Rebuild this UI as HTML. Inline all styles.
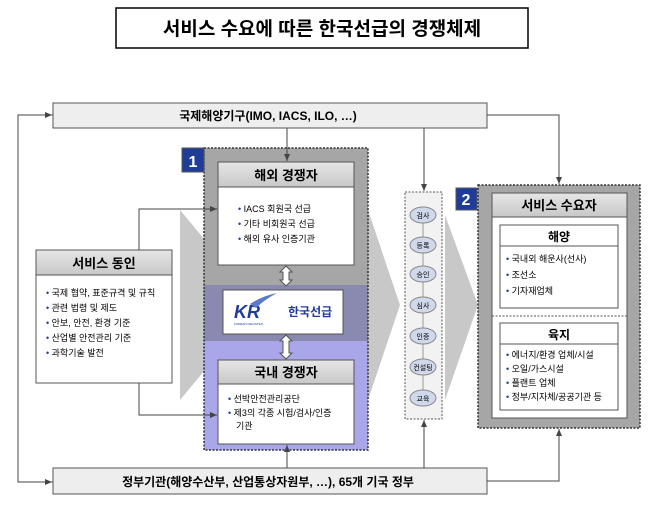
<!DOCTYPE html>
<html><head><meta charset="utf-8"><style>
body{margin:0;background:#fff;}
svg text{font-family:"Liberation Sans","Noto Sans CJK KR",sans-serif;}
</style></head><body>
<svg width="650" height="511" viewBox="0 0 650 511" xmlns="http://www.w3.org/2000/svg">
<defs>
<marker id="a" markerWidth="8" markerHeight="8" refX="7" refY="4" orient="auto"><path d="M0,1 L7,4 L0,7z" fill="#444"/></marker>
<linearGradient id="hg" x1="0" y1="0" x2="0" y2="1"><stop offset="0" stop-color="#e6e6e6"/><stop offset="1" stop-color="#c8c8c8"/></linearGradient>
</defs>
<rect x="116" y="8" width="412" height="40" fill="#fff" stroke="#000" stroke-width="1.5"/>
<text x="322" y="35" font-size="19" font-weight="bold" text-anchor="middle">서비스 수요에 따른 한국선급의 경쟁체제</text>

<path d="M180,210 L205,240 L205,370 L180,400 Z" fill="#c8c8c8"/>
<path d="M368,210 L400,305 L368,400 Z" fill="#c8c8c8"/>
<path d="M445,215 L478,305 L445,400 Z" fill="#c8c8c8"/>

<polyline points="53,115 18,115 18,482 53,482" fill="none" stroke="#444"/>
<line x1="18" y1="115" x2="52" y2="115" stroke="#444" marker-end="url(#a)"/>
<line x1="18" y1="482" x2="52" y2="482" stroke="#444" marker-end="url(#a)"/>

<rect x="53" y="103" width="434" height="25" fill="#eeeeee" stroke="#555"/>
<text x="268" y="120" font-size="12" font-weight="bold" text-anchor="middle">국제해양기구(IMO, IACS, ILO, …)</text>
<rect x="53" y="468" width="434" height="26" fill="#eeeeee" stroke="#555"/>
<text x="268" y="486" font-size="12" font-weight="bold" text-anchor="middle">정부기관(해양수산부, 산업통상자원부, …), 65개 기국 정부</text>

<rect x="204" y="148" width="164" height="137" fill="#a6a6a6"/>
<rect x="204" y="285" width="164" height="56" fill="#8a89b0"/>
<rect x="204" y="341" width="164" height="109" fill="#a9a6ea"/>
<rect x="204" y="148" width="164" height="302" fill="none" stroke="#333" stroke-dasharray="2,1.5" stroke-width="1.5"/>
<rect x="182" y="148" width="22" height="24" fill="#1f3c99" stroke="#555"/>
<text x="193" y="167" font-size="16" font-weight="bold" fill="#fff" text-anchor="middle">1</text>

<rect x="218" y="162" width="136" height="103" fill="#fff" stroke="#555"/>
<rect x="218" y="162" width="136" height="25" fill="url(#hg)" stroke="#555"/>
<text x="286" y="180" font-size="13" font-weight="bold" text-anchor="middle">해외 경쟁자</text>
<g font-size="9"><text x="238" y="212"><tspan fill="#1f3c99">•</tspan> IACS 회원국 선급</text>
<text x="238" y="227"><tspan fill="#1f3c99">•</tspan> 기타 비회원국 선급</text>
<text x="238" y="242"><tspan fill="#1f3c99">•</tspan> 해외 유사 인증기관</text></g>

<path d="M286,266 L292,272 L289,272 L289,280 L292,280 L286,286 L280,280 L283,280 L283,272 L280,272 Z" fill="#fff" stroke="#555"/>
<path d="M286,335 L292,341 L289,341 L289,353 L292,353 L286,359 L280,353 L283,353 L283,341 L280,341 Z" fill="#fff" stroke="#555"/>

<rect x="223" y="290" width="120" height="44" fill="#fff" stroke="#555"/>
<text x="234" y="318" font-size="18" font-weight="bold" font-style="italic" fill="#1f3c99">KR</text>
<path d="M250,304 Q262,296 277,293 Q264,300 256,308 Z" fill="#5a7bc8"/>
<text x="234" y="325" font-size="3" fill="#1f3c99">KOREAN REGISTER</text>
<text x="288" y="316" font-size="12" font-weight="bold" fill="#1f3c99">한국선급</text>

<rect x="218" y="360" width="136" height="84" fill="#fff" stroke="#555"/>
<rect x="218" y="360" width="136" height="24" fill="url(#hg)" stroke="#555"/>
<text x="286" y="377" font-size="13" font-weight="bold" text-anchor="middle">국내 경쟁자</text>
<g font-size="9"><text x="228" y="402"><tspan fill="#1f3c99">•</tspan> 선박안전관리공단</text>
<text x="228" y="416"><tspan fill="#1f3c99">•</tspan> 제3의 각종 시험/검사/인증</text>
<text x="236" y="429">기관</text></g>

<rect x="36" y="250" width="136" height="133" fill="#fff" stroke="#555"/>
<rect x="36" y="250" width="136" height="25" fill="url(#hg)" stroke="#555"/>
<text x="104" y="268" font-size="13" font-weight="bold" text-anchor="middle">서비스 동인</text>
<g font-size="9"><text x="46" y="296"><tspan fill="#1f3c99">•</tspan> 국제 협약, 표준규격 및 규칙</text>
<text x="46" y="311"><tspan fill="#1f3c99">•</tspan> 관련 법령 및 제도</text>
<text x="46" y="326"><tspan fill="#1f3c99">•</tspan> 안보, 안전, 환경 기준</text>
<text x="46" y="341"><tspan fill="#1f3c99">•</tspan> 산업별 안전관리 기준</text>
<text x="46" y="356"><tspan fill="#1f3c99">•</tspan> 과학기술 발전</text></g>
<polyline points="139,250 139,209 217,209" fill="none" stroke="#444" marker-end="url(#a)"/>
<polyline points="139,383 139,415 217,415" fill="none" stroke="#444" marker-end="url(#a)"/>

<line x1="287" y1="128" x2="287" y2="161" stroke="#444" marker-end="url(#a)"/>
<line x1="287" y1="468" x2="287" y2="445" stroke="#444" marker-end="url(#a)"/>
<line x1="424" y1="128" x2="424" y2="191" stroke="#444" marker-end="url(#a)"/>
<line x1="424" y1="468" x2="424" y2="420" stroke="#444" marker-end="url(#a)"/>
<polyline points="487,115 559,115 559,184" fill="none" stroke="#444" marker-end="url(#a)"/>
<polyline points="487,481 559,481 559,429" fill="none" stroke="#444" marker-end="url(#a)"/>

<rect x="405" y="192" width="37" height="227" fill="#f2f2f2" stroke="#555" stroke-dasharray="2,1.5"/>
<line x1="423" y1="215" x2="423" y2="398" stroke="#999"/>
<g font-size="7" text-anchor="middle">
<ellipse cx="423" cy="215" rx="13" ry="8" fill="#d0d8ec" stroke="#888"/><text x="423" y="218">검사</text>
<ellipse cx="423" cy="245" rx="13" ry="8" fill="#d0d8ec" stroke="#888"/><text x="423" y="248">등록</text>
<ellipse cx="423" cy="274" rx="13" ry="8" fill="#d0d8ec" stroke="#888"/><text x="423" y="277">승인</text>
<ellipse cx="423" cy="305" rx="13" ry="8" fill="#d0d8ec" stroke="#888"/><text x="423" y="308">심사</text>
<ellipse cx="423" cy="336" rx="13" ry="8" fill="#d0d8ec" stroke="#888"/><text x="423" y="339">인증</text>
<ellipse cx="423" cy="367" rx="13" ry="8" fill="#d0d8ec" stroke="#888"/><text x="423" y="370">컨설팅</text>
<ellipse cx="423" cy="398" rx="13" ry="8" fill="#d0d8ec" stroke="#888"/><text x="423" y="401">교육</text>
</g>

<rect x="478" y="185" width="162" height="243" fill="#a6a6a6" stroke="#333" stroke-dasharray="2,1.5" stroke-width="1.5"/>
<rect x="456" y="188" width="21" height="22" fill="#1f3c99" stroke="#555"/>
<text x="466" y="205" font-size="16" font-weight="bold" fill="#fff" text-anchor="middle">2</text>
<rect x="492" y="193" width="135" height="225" fill="#fff" stroke="#555"/>
<rect x="492" y="193" width="135" height="24" fill="url(#hg)" stroke="#555"/>
<text x="559" y="210" font-size="13" font-weight="bold" text-anchor="middle">서비스 수요자</text>
<rect x="500" y="225" width="118" height="83" fill="#fff" stroke="#555"/>
<rect x="500" y="225" width="118" height="21" fill="#fff" stroke="#555"/>
<text x="559" y="241" font-size="12" font-weight="bold" text-anchor="middle">해양</text>
<g font-size="9"><text x="506" y="262"><tspan fill="#1f3c99">•</tspan> 국내외 해운사(선사)</text>
<text x="506" y="278"><tspan fill="#1f3c99">•</tspan> 조선소</text>
<text x="506" y="294"><tspan fill="#1f3c99">•</tspan> 기자재업체</text></g>
<line x1="492" y1="316" x2="627" y2="316" stroke="#555" stroke-dasharray="2,1.5"/>
<rect x="500" y="323" width="118" height="87" fill="#fff" stroke="#555"/>
<rect x="500" y="323" width="118" height="21" fill="#fff" stroke="#555"/>
<text x="559" y="339" font-size="12" font-weight="bold" text-anchor="middle">육지</text>
<g font-size="9"><text x="506" y="358"><tspan fill="#1f3c99">•</tspan> 에너지/환경 업체/시설</text>
<text x="506" y="372"><tspan fill="#1f3c99">•</tspan> 오일/가스시설</text>
<text x="506" y="386"><tspan fill="#1f3c99">•</tspan> 플랜트 업체</text>
<text x="506" y="400"><tspan fill="#1f3c99">•</tspan> 정부/지자체/공공기관 등</text></g>
</svg>
</body></html>
